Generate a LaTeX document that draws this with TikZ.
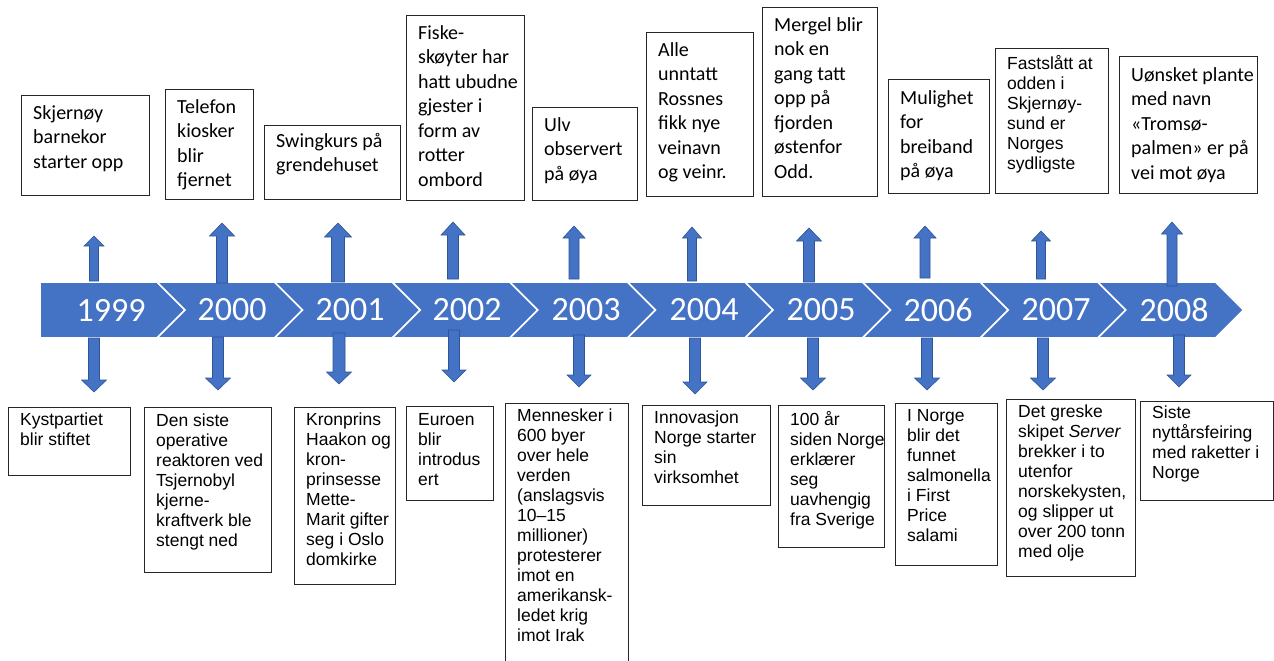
\documentclass[tikz,border=0pt]{standalone}
\usepackage{fontspec}
\setmainfont{Carlito}
\newfontfamily\arialf{Liberation Sans}
\usetikzlibrary{calc}
\definecolor{band}{HTML}{4472C4}
\definecolor{arrowedge}{HTML}{2F5597}
\definecolor{boxline}{HTML}{262626}
\tikzset{
  evbox/.style={draw=boxline, line width=1.2pt, fill=white, rectangle, inner sep=0pt, anchor=north west},
  caltext/.style={anchor=north west, inner sep=0pt, align=left, font=\fontsize{20}{24.5}\selectfont, execute at begin node={\rule{0pt}{15pt}}},
  ariatext/.style={anchor=north west, inner sep=0pt, align=left, font=\arialf\fontsize{17.5}{20}\selectfont, execute at begin node={\rule{0pt}{13pt}}},
  yearlbl/.style={text=white, inner sep=0pt, font=\fontsize{34}{40}\selectfont},
  seg/.style={fill=band, draw=white, line width=1.6pt, line join=miter},
  blk/.style={fill=band, draw=arrowedge, line width=0.6pt},
}
% #1 name, #2 x1, #3 y1, #4 x2, #5 y2, #6 text style, #7 baseline offset, #8 text
\newcommand\evtbox[8]{%
  \node[evbox, minimum width={#4-#2}, minimum height={#5-#3}] (#1) at (#2,#3) {};
  \node[#6] (#1t) at ($(#1.north west)+(12,{#7-15})$) {#8};
}
% up arrow: x, y bottom, y tip, shaft w, head w, head len
\newcommand\uparr[6]{%
  \draw[blk] ({#1-#4/2},#2) -- ({#1-#4/2},{#3+#6}) -- ({#1-#5/2},{#3+#6}) -- (#1,#3)
    -- ({#1+#5/2},{#3+#6}) -- ({#1+#4/2},{#3+#6}) -- ({#1+#4/2},#2) -- cycle;
}
% down arrow: x, y top, y tip, shaft w, head w, head len
\newcommand\dnarr[6]{%
  \draw[blk] ({#1-#4/2},#2) -- ({#1-#4/2},{#3-#6}) -- ({#1-#5/2},{#3-#6}) -- (#1,#3)
    -- ({#1+#5/2},{#3-#6}) -- ({#1+#4/2},{#3-#6}) -- ({#1+#4/2},#2) -- cycle;
}
\begin{document}
\begin{tikzpicture}[x=1pt,y=-1pt]
\useasboundingbox (0,0) rectangle (1274,661);
\clip (0,0) rectangle (1274,661);
\fill[white] (0,0) rectangle (1274,661);

% band of chevrons
\draw[seg] (40,282) -- (157,282) -- (185,310) -- (157,338) -- (40,338) -- cycle;
\foreach \i in {1,...,9}{
  \pgfmathsetmacro\L{157+117.6*(\i-1)}
  \pgfmathsetmacro\R{157+117.6*\i}
  \draw[seg] (\L,282) -- (\R,282) -- ({\R+28},310) -- (\R,338) -- (\L,338) -- ({\L+28},310) -- cycle;
}

% up arrows
\uparr{94}{281}{236}{9}{20}{10}
\uparr{222}{283}{223}{11}{25}{13}
\uparr{338}{282}{223}{13}{27}{14}
\uparr{453}{279}{222}{11}{24}{13}
\uparr{574}{279}{226}{10}{22}{12}
\uparr{692}{281}{227}{9}{19}{11}
\uparr{809}{282}{228}{11}{25}{13}
\uparr{925}{278}{226}{10}{22}{12}
\uparr{1041}{279}{231}{9}{19}{10}
\uparr{1172}{286}{222}{10}{21}{12}

% down arrows
\dnarr{94}{338}{392}{11}{25}{12}
\dnarr{218}{337}{390}{11}{25}{12}
\dnarr{339}{333}{384}{12}{25}{12}
\dnarr{454}{330}{382}{11}{24}{12}
\dnarr{579}{335}{387}{11}{24}{12}
\dnarr{695}{338}{394}{11}{24}{12}
\dnarr{813}{338}{390}{11}{25}{12}
\dnarr{927}{338}{390}{11}{25}{12}
\dnarr{1043}{338}{390}{11}{25}{12}
\dnarr{1179}{335}{387}{11}{24}{12}

% year labels
\node[yearlbl] (y1999) at (111,310) {1999};
\node[yearlbl] (y2000) at (232,310) {2000};
\node[yearlbl] (y2001) at (350,310) {2001};
\node[yearlbl] (y2002) at (467,310) {2002};
\node[yearlbl] (y2003) at (586,310) {2003};
\node[yearlbl] (y2004) at (704,310) {2004};
\node[yearlbl] (y2005) at (821,310) {2005};
\node[yearlbl] (y2006) at (938,310) {2006};
\node[yearlbl] (y2007) at (1056,310) {2007};
\node[yearlbl] (y2008) at (1174,310) {2008};

% top boxes
\evtbox{t1}{21}{95}{149}{195}{caltext}{25}{Skjernøy\\barnekor\\starter opp}
\evtbox{t2}{165}{89}{253}{199}{caltext}{25}{Telefon\\kiosker\\blir\\fjernet}
\evtbox{t3}{264}{125}{400}{199}{caltext}{23}{Swingkurs på\\grendehuset}
\evtbox{t4}{406}{15}{524}{200}{caltext}{25}{Fiske-\\skøyter har\\hatt ubudne\\gjester i\\form av\\rotter\\ombord}
\evtbox{t5}{532}{107}{637}{200}{caltext}{25}{Ulv\\observert\\på øya}
\evtbox{t6}{646}{32}{753}{196}{caltext}{25}{Alle\\unntatt\\Rossnes\\fikk nye\\veinavn\\og veinr.}
\evtbox{t7}{762}{7}{877}{196}{caltext}{25}{Mergel blir\\nok en\\gang tatt\\opp på\\fjorden\\østenfor\\Odd.}
\evtbox{t8}{888}{79}{989}{193}{caltext}{26}{Mulighet\\for\\breiband\\på øya}
\evtbox{t9}{995}{48}{1108}{193}{ariatext}{22}{Fastslått at\\odden i\\Skjernøy-\\sund er\\Norges\\sydligste}
\evtbox{t10}{1119}{56}{1257}{193}{caltext}{26}{Uønsket plante\\med navn\\«Tromsø-\\palmen» er på\\vei mot øya}

% bottom boxes
\evtbox{b1}{8}{407}{130}{475}{ariatext}{21}{Kystpartiet\\blir stiftet}
\evtbox{b2}{144}{407}{271}{572}{ariatext}{22}{Den siste\\operative\\reaktoren ved\\Tsjernobyl\\kjerne-\\kraftverk ble\\stengt ned}
\evtbox{b3}{294}{407}{395}{584}{ariatext}{21}{Kronprins\\Haakon og\\kron-\\prinsesse\\Mette-\\Marit gifter\\seg i Oslo\\domkirke}
\evtbox{b4}{406}{406}{493}{500}{ariatext}{22}{Euroen\\blir\\introdus\\ert}
\evtbox{b5}{505}{403}{628}{675}{ariatext}{21}{Mennesker i\\600 byer\\over hele\\verden\\(anslagsvis\\10–15\\millioner)\\protesterer\\imot en\\amerikansk-\\ledet krig\\imot Irak}
\evtbox{b6}{642}{405}{770}{505}{ariatext}{21}{Innovasjon\\Norge starter\\sin\\virksomhet}
\evtbox{b7}{778}{405}{884}{547}{ariatext}{21}{100 år\\siden Norge\\erklærer\\seg\\uavhengig\\fra Sverige}
\evtbox{b8}{895}{403}{997}{565}{ariatext}{21}{I Norge\\blir det\\funnet\\salmonella\\i First\\Price\\salami}
\evtbox{b9}{1006}{399}{1135}{576}{ariatext}{21}{Det greske\\skipet \textit{Server}\\brekker i to\\utenfor\\norskekysten,\\og slipper ut\\over 200 tonn\\med olje}
\evtbox{b10}{1140}{401}{1273}{500}{ariatext}{20}{Siste\\nyttårsfeiring\\med raketter i\\Norge}
\end{tikzpicture}
\end{document}
